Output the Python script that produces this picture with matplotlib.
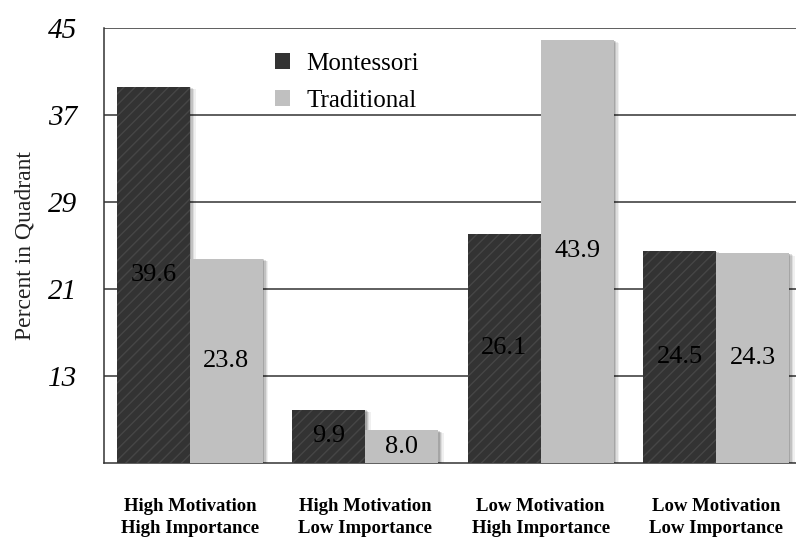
import numpy as np
import matplotlib
matplotlib.use('Agg')
import matplotlib.pyplot as plt
import matplotlib.patheffects as pe
from matplotlib.patches import Patch

# quadrant percentages
quadrants   = ['High Motivation\nHigh Importance', 'High Motivation\nLow Importance',
               'Low Motivation\nHigh Importance', 'Low Motivation\nLow Importance']
montessori  = [39.6, 9.9, 26.1, 24.5]
traditional = [23.8, 8.0, 43.9, 24.3]
y_ticks     = [13, 21, 29, 37, 45]

plt.rcParams['font.family'] = ['Liberation Serif', 'DejaVu Serif']
plt.rcParams['hatch.linewidth'] = 1.0

fig = plt.figure(figsize=(7.96, 5.40), dpi=100)
ax  = fig.add_axes([0.1307, 0.1426, 0.8693, 0.8056])

y_base = 5
x      = np.arange(len(quadrants))
w      = 0.416

# soft drop shadow, built from a few faint offset copies
shadow = [pe.SimplePatchShadow(offset=(4, -2), shadow_rgbFace='k', alpha=0.06),
          pe.SimplePatchShadow(offset=(3, -1.5), shadow_rgbFace='k', alpha=0.08),
          pe.SimplePatchShadow(offset=(2, -1), shadow_rgbFace='k', alpha=0.12),
          pe.SimplePatchShadow(offset=(1, -0.5), shadow_rgbFace='k', alpha=0.15),
          pe.Normal()]

m_h = np.array(montessori) - y_base
t_h = np.array(traditional) - y_base

b1 = ax.bar(x - w/2, m_h, w, bottom=y_base, color='#333333', linewidth=0, zorder=3)
b2 = ax.bar(x + w/2, t_h, w, bottom=y_base, color='#c0c0c0', linewidth=0, zorder=3)
for b in list(b1) + list(b2):
    b.set_path_effects(shadow)
# diagonal texture on the dark bars
ax.bar(x - w/2, m_h, w, bottom=y_base, color='none', edgecolor='#464646',
       linewidth=0, hatch='///', zorder=4)

# value labels in the middle of each bar
for xi, v in zip(x - w/2, montessori):
    ax.text(xi, (y_base + v) / 2, '{:.1f}'.format(v), ha='center', va='center',
            fontsize=19, color='black', zorder=5)
for xi, v in zip(x + w/2, traditional):
    ax.text(xi, (y_base + v) / 2, '{:.1f}'.format(v), ha='center', va='center',
            fontsize=19, color='black', zorder=5)

ax.set_ylim(y_base, 45)
ax.set_xlim(-0.49, 3.456)
ax.set_yticks(y_ticks)
ax.set_yticklabels([str(t) for t in y_ticks], fontsize=21, style='italic')
ax.set_xticks(x)
ax.set_xticklabels(quadrants, fontsize=13.5, fontweight='bold', linespacing=1.4)
ax.tick_params(axis='y', length=0, pad=19)
ax.tick_params(axis='x', length=0, pad=25)
ax.set_ylabel('Percent in Quadrant', fontsize=17, color='#222222', labelpad=9)

ax.grid(axis='y', color='#333333', linewidth=1.1, zorder=0)
ax.set_axisbelow(True)
for s in ['top', 'right']:
    ax.spines[s].set_visible(False)
ax.spines['left'].set_color('#333333')
ax.spines['bottom'].set_color('#333333')
ax.spines['left'].set_linewidth(1.1)
ax.spines['bottom'].set_linewidth(1.1)

handles = [Patch(facecolor='#333333', label='Montessori'),
           Patch(facecolor='#c0c0c0', label='Traditional')]
ax.legend(handles=handles, loc='upper left', bbox_to_anchor=(0.215, 0.995),
          frameon=False, fontsize=18, handlelength=0.6, handleheight=0.6,
          handletextpad=0.65, labelspacing=0.6)

fig.savefig('out.png', dpi=100)
